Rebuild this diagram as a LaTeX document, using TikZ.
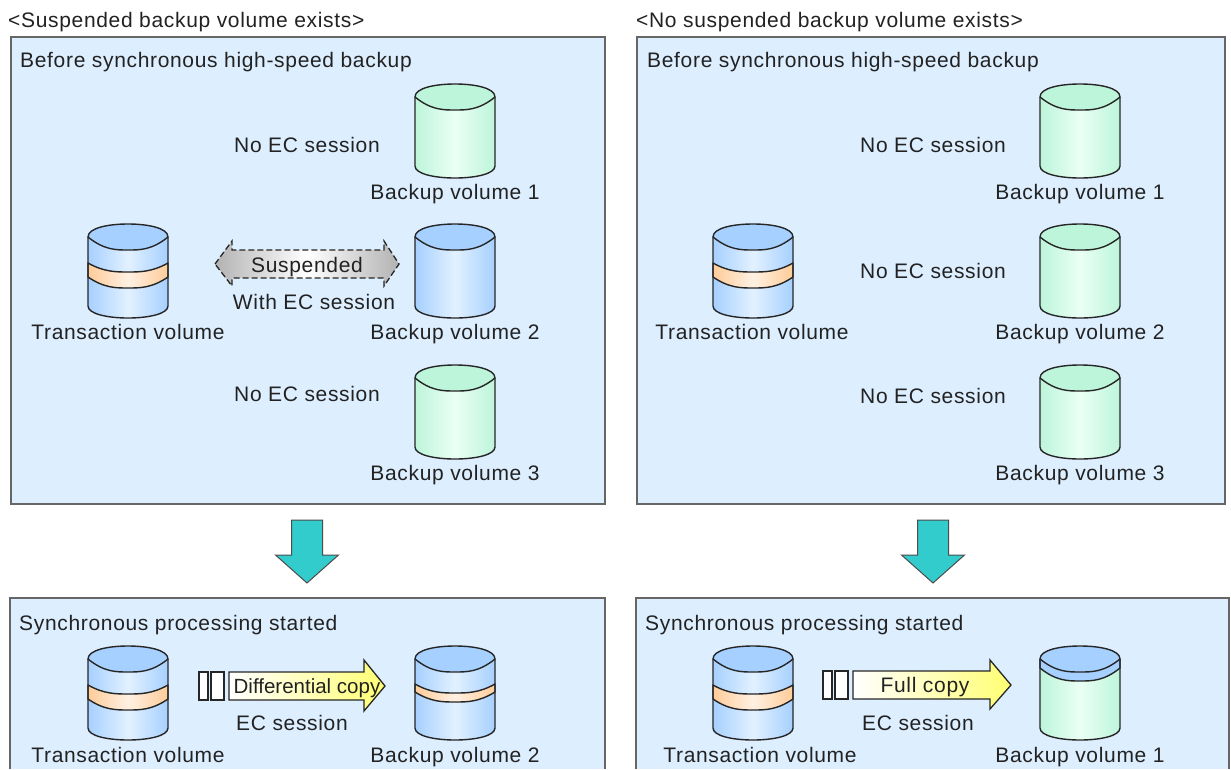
\documentclass[tikz,border=0pt]{standalone}
\usepackage{fontspec}
\setmainfont[LetterSpace=3.2]{Liberation Sans}
\newfontfamily\smallfont[LetterSpace=0]{Liberation Sans}
\definecolor{panelfill}{HTML}{DDEEFF}
\definecolor{panelline}{HTML}{666666}
\definecolor{blueedge}{HTML}{A6D0FF}
\definecolor{bluemid}{HTML}{E2F1FF}
\definecolor{greenedge}{HTML}{BDF5DA}
\definecolor{greenmid}{HTML}{EAFFF5}
\definecolor{bandedge}{HTML}{FFCC99}
\definecolor{bandmid}{HTML}{FFF0E2}
\definecolor{tealarrow}{HTML}{33CCCC}
\definecolor{txt}{HTML}{222222}
\tikzset{
  x=1pt,y=-1pt,
  panel/.style={draw=panelline,line width=1.5pt,fill=panelfill},
  lbl/.style={inner sep=0pt,text=txt,text height=18pt,text depth=3pt,font=\fontsize{21}{25}\selectfont},
  lblleft/.style={lbl,anchor=west},
  cylline/.style={draw=black!85,line width=1.4pt,line join=round},
  bluebody/.style={left color=blueedge,right color=blueedge,middle color=bluemid},
  greenbody/.style={left color=greenedge,right color=greenedge,middle color=greenmid},
  bandbody/.style={left color=bandedge,right color=bandedge,middle color=bandmid},
  downarrow/.style={draw=black!70,line width=1pt,fill=tealarrow,line join=miter},
  slot/.style={draw=black!85,line width=1.3pt,fill=white},
  copyarrow/.style={draw=black!85,line width=1.3pt,left color=white,right color=yellow!55,line join=miter},
}
% local path helpers: sagging edge of a cylinder
\newcommand{\sagpath}[2]{(-40,#1) .. controls (-24,#2) and (-12,#2) .. (0,#2) .. controls (12,#2) and (24,#2) .. (40,#1)}
\newcommand{\sagback}[2]{(40,#1) .. controls (24,#2) and (12,#2) .. (0,#2) .. controls (-12,#2) and (-24,#2) .. (-40,#1)}
% \cylshape{cx}{top y}{body style}{top colour}{extra}
\newcommand{\cylshape}[5]{%
\begin{scope}[shift={(#1,#2)}]
  \path[#3] (-40,13) -- (-40,82) .. controls (-40,90) and (-20,94) .. (0,94) .. controls (20,94) and (40,90) .. (40,82) -- (40,13) -- cycle;
  #5
  \draw[cylline] (-40,13) -- (-40,82) .. controls (-40,90) and (-20,94) .. (0,94) .. controls (20,94) and (40,90) .. (40,82) -- (40,13);
  \draw[cylline,fill=#4] (-40,13) .. controls (-40,4) and (-20,0) .. (0,0) .. controls (20,0) and (40,4) .. (40,13) .. controls (24,26) and (12,26) .. (0,26) .. controls (-12,26) and (-24,26) .. (-40,13) -- cycle;
\end{scope}}
\newcommand{\bandshape}[4]{\draw[cylline,bandbody] \sagpath{#1}{#2} -- \sagback{#3}{#4} -- cycle;}
\newcommand{\transvol}[2]{\cylshape{#1}{#2}{bluebody}{blueedge}{\bandshape{39}{48}{53}{64}}}
\newcommand{\downarrowshape}[2]{\draw[downarrow] (#1-15.5,#2) -- (#1+15.5,#2) -- (#1+15.5,#2+35) -- (#1+31.5,#2+35) -- (#1,#2+63) -- (#1-31.5,#2+35) -- (#1-15.5,#2+35) -- cycle;}
\begin{document}
\begin{tikzpicture}
\useasboundingbox (0,0) rectangle (1231,769);
\fill[white] (0,0) rectangle (1231,769);
% panels
\draw[panel] (11,37) rectangle (605,504);
\draw[panel] (637,37) rectangle (1225,504);
\fill[panelfill] (10,598) rectangle (605,769);
\draw[panelline,line width=1.5pt] (10,769) -- (10,598) -- (605,598) -- (605,769);
\fill[panelfill] (636,598) rectangle (1229,769);
\draw[panelline,line width=1.5pt] (636,769) -- (636,598) -- (1229,598) -- (1229,769);
% headings
\node[lblleft] (headl) at (8,20) {<Suspended backup volume exists>};
\node[lblleft] (headr) at (636,20) {<No suspended backup volume exists>};
\node[lblleft] (beforel) at (20,60) {Before synchronous high-speed backup};
\node[lblleft] (beforer) at (647,60) {Before synchronous high-speed backup};
\node[lblleft] (syncl) at (19,623) {Synchronous processing started};
\node[lblleft] (syncr) at (645,623) {Synchronous processing started};
% left upper cylinders
\transvol{128}{224}
\cylshape{455}{84}{greenbody}{greenedge}{}
\cylshape{455}{224}{bluebody}{blueedge}{}
\cylshape{455}{365}{greenbody}{greenedge}{}
% right upper cylinders
\transvol{753}{224}
\cylshape{1080}{84}{greenbody}{greenedge}{}
\cylshape{1080}{224}{greenbody}{greenedge}{}
\cylshape{1080}{365}{greenbody}{greenedge}{}
% bottom cylinders
\transvol{128}{646}
\cylshape{455}{646}{bluebody}{blueedge}{\bandshape{38}{47}{46}{56}}
\transvol{753}{646}
\cylshape{1080}{646}{greenbody}{blueedge}{\draw[cylline,fill=blueedge] (-40,13) -- (-40,22) .. controls (-24,35) and (-12,35) .. (0,35) .. controls (12,35) and (24,35) .. (40,22) -- (40,13) -- cycle;}
% suspended arrow
\draw[draw=black!85,line width=1.3pt,dashed,dash pattern=on 6pt off 3pt,left color=black!30,right color=black!30,middle color=white]
  (215,264) -- (232,241) -- (232,250) -- (384,250) -- (384,241) -- (399,264) -- (384,286) -- (384,278) -- (232,278) -- (232,286) -- cycle;
% down arrows
\downarrowshape{307}{520}
\downarrowshape{933}{520}
% copy arrows
\draw[slot] (199,672) rectangle (208,700);
\draw[slot] (211,672) rectangle (224,700);
\draw[copyarrow] (229,672) -- (364,672) -- (364,660) -- (385,686) -- (364,711) -- (364,700) -- (229,700) -- cycle;
\draw[slot] (823,671) rectangle (832,699);
\draw[slot] (835,671) rectangle (848,699);
\draw[copyarrow] (853,671) -- (990,671) -- (990,660) -- (1011,685) -- (990,709) -- (990,699) -- (853,699) -- cycle;
% labels left upper
\node[lbl] (nol1) at (307,145) {No EC session};
\node[lbl] (bl1) at (455,192) {Backup volume 1};
\node[lbl] (susp) at (307,265) {Suspended};
\node[lbl] (withec) at (314,302) {With EC session};
\node[lbl] (tl) at (128,332) {Transaction volume};
\node[lbl] (bl2) at (455,332) {Backup volume 2};
\node[lbl] (nol3) at (307,394) {No EC session};
\node[lbl] (bl3) at (455,473) {Backup volume 3};
% labels right upper
\node[lbl] (nor1) at (933,145) {No EC session};
\node[lbl] (br1) at (1080,192) {Backup volume 1};
\node[lbl] (nor2) at (933,271) {No EC session};
\node[lbl] (tr) at (752,332) {Transaction volume};
\node[lbl] (br2) at (1080,332) {Backup volume 2};
\node[lbl] (nor3) at (933,396) {No EC session};
\node[lbl] (br3) at (1080,473) {Backup volume 3};
% labels bottom
\node[inner sep=0pt,text=txt,text height=18pt,text depth=3pt,font=\smallfont\fontsize{20.5}{24}\selectfont] (diff) at (307,686) {Differential copy};
\node[lbl] (ecl) at (292,723) {EC session};
\node[lbl] (tbl) at (128,755) {Transaction volume};
\node[lbl] (bbl) at (455,755) {Backup volume 2};
\node[lbl] (full) at (925,685) {Full copy};
\node[lbl] (ecr) at (918,723) {EC session};
\node[lbl] (tbr) at (760,755) {Transaction volume};
\node[lbl] (bbr) at (1080,755) {Backup volume 1};
\end{tikzpicture}
\end{document}
